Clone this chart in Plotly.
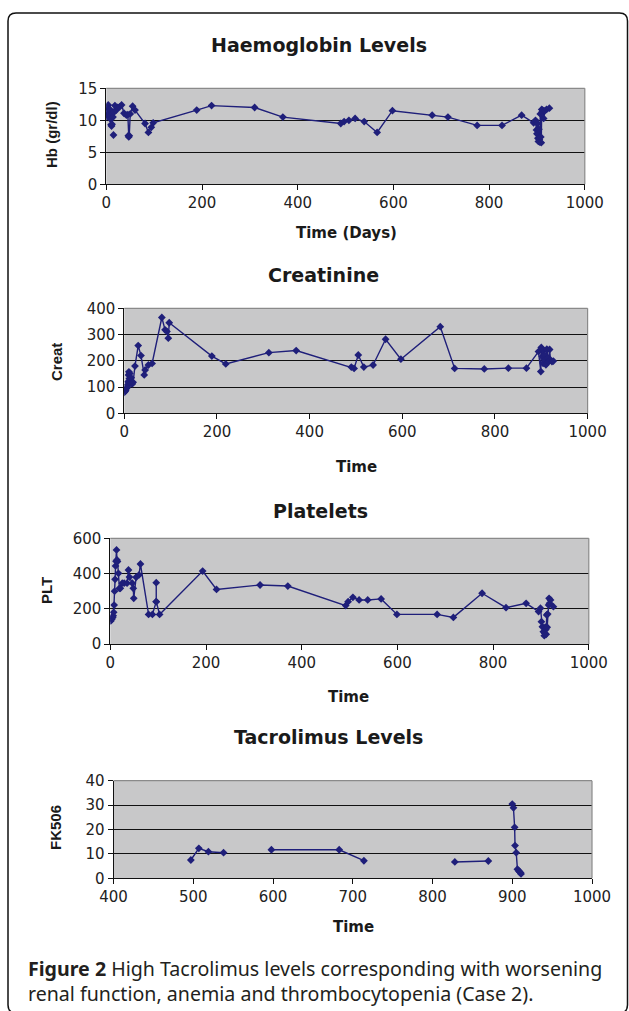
import plotly.graph_objects as go

# ---------------- data ----------------
hb_days = [0, 1, 2, 3, 4, 5, 6, 7, 8, 9, 10, 11, 12, 13, 14, None, 15, None, 16, 18, 21, 24, 28, 32, 37, 42, 45, 46, 47, 48, 50, 55, 60, 81, 88, 94, 98,
           189, 220, 310, 369, 490, 497, 507, 520, 539, 566, 598, 681, 714, 775, 827, 868,
           893, 897, 899, 900, 901, 902, 903, 904, 905, 906, 907, 908, 909, 910, 911, 912, 914, 917, 920, 926]
hb_values = [10.5, 11.5, 12.1, 10.8, 12.4, 11.0, 11.8, 10.4, 11.6, 10.2, 9.3, 9.1, 9.4, 11.1, 10.5, None, 7.7, None, 11.3, 12.3, 11.6, 12.0, 12.1, 12.4, 11.1, 10.8, 10.9, 7.6, 7.4, 7.6, 11.0, 12.2, 11.6, 9.5, 8.1, 8.9, 9.6,
             11.6, 12.3, 12.0, 10.5, 9.5, 9.8, 10.0, 10.3, 9.8, 8.1, 11.5, 10.8, 10.5, 9.2, 9.2, 10.8,
             9.6, 10.0, 8.5, 7.9, 9.5, 7.2, 6.7, 8.6, 7.0, 6.6, 11.0, 7.4, 6.5, 11.7, 11.3, 11.6, 10.3, 11.5, 11.7, 11.9]

creat_days = [0, 2, 3, 5, 6, 7, 8, 9, 10, 11, 12, 13, 14, 15, 17, 19, 23, 30, 36, 43, 45, 52, 60, 81, 88, 92, 95, 97,
              189, 219, 312, 371, 490, 496, 505, 517, 537, 564, 597, 682, 713, 777, 829, 868,
              894, 899, 900, 902, 904, 905, 907, 908, 910, 912, 914, 916, 918, 920, 923, 926]
creat_values = [80, 84, 88, 95, 99, 108, 120, 146, 158, 133, 152, 127, 114, 135, 112, 118, 180, 258, 220, 146, 165, 184, 190, 365, 318, 312, 286, 345,
                218, 188, 231, 239, 176, 171, 222, 176, 184, 282, 206, 330, 171, 169, 172, 172,
                235, 159, 251, 216, 190, 240, 222, 203, 185, 244, 210, 197, 243, 203, 197, 199]

plt_days = [1, 3, 5, 6, 7, 8, 9, 10, 11, 12, 13, 14, 15, 17, 19, 21, 25, 29, 35, 38, 40, 46, 48, 49, 54, 60, 63,
            80, 88, 96, 96, 96, 103,
            193, 222, 313, 371, 492, 497, 507, 520, 538, 566, 599, 683, 717, 777, 827, 869,
            895, 899, 901, 903, 905, 907, 908, 909, 910, 911, 912, 913, 914, 916, 917, 918, 920, 926]
plt_values = [131, 140, 150, 160, 180, 221, 300, 367, 443, 470, 534, 477, 468, 401, 316, 316, 345, 345, 345, 420, 380, 345, 316, 259, 379, 392, 454,
              168, 168, 240, 348, 240, 168,
              414, 310, 335, 329, 218, 240, 265, 250, 250, 256, 168, 168, 151, 288, 206, 231,
              184, 203, 127, 98, 70, 47, 61, 95, 82, 55, 165, 95, 170, 221, 259, 231, 250, 212]

fk_days = [497, 507, 519, 538, None, 598, 683, 714, None, 828, 870, None,
           900, 901.5, 903, 903.5, 905, 906.5, 908, 909, 910.5, 911]
fk_values = [7.5, 12.3, 10.9, 10.5, None, 11.7, 11.7, 7.2, None, 6.7, 7.1, None,
             30.4, 28.9, 20.9, 13.4, 10.5, 3.7, 3.1, 2.7, 2.3, 1.8]

titles = ["Haemoglobin Levels", "Creatinine", "Platelets", "Tacrolimus Levels"]
x_titles = ["Time (Days)", "Time", "Time", "Time"]
y_titles = ["Hb (gr/dl)", "Creat", "PLT", "FK506"]
y_ranges = [[0, 15], [0, 400], [0, 600], [0, 40]]
y_dticks = [5, 100, 200, 10]
x_ranges = [[0, 1000], [0, 1000], [0, 1000], [400, 1000]]
x_dticks = [200, 200, 200, 100]

caption_bold = "Figure 2"
caption_line1 = " High Tacrolimus levels corresponding with worsening"
caption_line2 = "renal function, anemia and thrombocytopenia (Case 2)."

# ---------------- layout geometry (pixels) ----------------
W, H = 629, 1011
def fx(p):
    return p / W
def fy(p):
    return 1 - p / H

panels = [
    dict(l=106.3, r=584.8, t=88.3, b=184.3, title=(319, 45), xt=(346, 233), yt=(51, 135)),
    dict(l=124.3, r=587.6, t=308.3, b=413.3, title=(323, 275), xt=(356, 467), yt=(56, 362)),
    dict(l=110.3, r=588.8, t=538.3, b=644.0, title=(320, 511), xt=(349, 697), yt=(46, 591)),
    dict(l=113.5, r=592.0, t=780.7, b=878.3, title=(328, 737), xt=(353, 927), yt=(55, 828)),
]

navy = "#1f1f7a"
series = [(hb_days, hb_values), (creat_days, creat_values), (plt_days, plt_values), (fk_days, fk_values)]

fig = go.Figure()
layout = dict(
    width=W, height=H, margin=dict(l=0, r=0, t=0, b=0, pad=0), autosize=False,
    paper_bgcolor="white", plot_bgcolor="#c8c8c9", showlegend=False,
)
annotations = []
shapes = []
tick_font = dict(family="DejaVu Sans", size=15, color="#222222")

for i, (p, (xs, ys)) in enumerate(zip(panels, series)):
    n = "" if i == 0 else str(i + 1)
    fig.add_trace(go.Scatter(
        x=xs, y=ys, mode="lines+markers", connectgaps=False,
        line=dict(color=navy, width=1.4),
        marker=dict(symbol="diamond", size=6, color=navy),
        xaxis="x" + n, yaxis="y" + n, hoverinfo="skip",
    ))
    layout["xaxis" + n] = dict(
        domain=[fx(p["l"]), fx(p["r"])], anchor="y" + n, automargin=False,
        range=x_ranges[i], dtick=x_dticks[i], tick0=x_ranges[i][0],
        showgrid=False, zeroline=False, showline=True, linecolor="#111111", linewidth=1,
        ticks="outside", ticklen=5, tickcolor="#111111", tickfont=tick_font,
    )
    layout["yaxis" + n] = dict(
        domain=[fy(p["b"]), fy(p["t"])], anchor="x" + n, automargin=False,
        range=y_ranges[i], dtick=y_dticks[i], tick0=0,
        showgrid=True, gridcolor="#111111", gridwidth=1,
        zeroline=False, showline=True, linecolor="#111111", linewidth=1,
        ticks="outside", ticklen=5, tickcolor="#111111", tickfont=tick_font,
    )
    # plot area border (top and right, grey)
    shapes.append(dict(type="line", xref="x" + n + " domain", yref="y" + n + " domain",
                       x0=0, x1=1, y0=1, y1=1, line=dict(color="#8a8a8a", width=1.2), layer="above"))
    shapes.append(dict(type="line", xref="x" + n + " domain", yref="y" + n + " domain",
                       x0=1, x1=1, y0=0, y1=1, line=dict(color="#8a8a8a", width=1.2), layer="above"))
    annotations.append(dict(text="<b>%s</b>" % titles[i], x=fx(p["title"][0]), y=fy(p["title"][1]),
                            xref="paper", yref="paper", showarrow=False, xanchor="center", yanchor="middle",
                            font=dict(family="DejaVu Sans", size=19, color="#1a1a1a")))
    annotations.append(dict(text="<b>%s</b>" % x_titles[i], x=fx(p["xt"][0]), y=fy(p["xt"][1]),
                            xref="paper", yref="paper", showarrow=False, xanchor="center", yanchor="middle",
                            font=dict(family="DejaVu Sans", size=15, color="#1a1a1a")))
    annotations.append(dict(text="<b>%s</b>" % y_titles[i], x=fx(p["yt"][0]), y=fy(p["yt"][1]),
                            xref="paper", yref="paper", showarrow=False, xanchor="center", yanchor="middle",
                            textangle=-90,
                            font=dict(family="Liberation Sans", size=15, color="#1a1a1a")))

# caption
annotations.append(dict(text="<b>%s</b>%s" % (caption_bold, caption_line1), x=fx(26), y=fy(968),
                        xref="paper", yref="paper", showarrow=False, xanchor="left", yanchor="middle",
                        font=dict(family="Noto Sans", size=19.6, color="#231f20")))
annotations.append(dict(text=caption_line2, x=fx(26), y=fy(993),
                        xref="paper", yref="paper", showarrow=False, xanchor="left", yanchor="middle",
                        font=dict(family="Noto Sans", size=19.6, color="#231f20")))

# outer rounded frame
L, T, R, B, rad = 8, 13, 627.5, 1013, 8
path = ("M {a},{b} Q {c},{d} {e},{d} L {f},{d} Q {g},{d} {g},{b} L {g},{h} Q {g},{i} {f},{i} "
        "L {e},{i} Q {c},{i} {c},{h} Z").format(
    a=fx(L), b=fy(T + rad), c=fx(L), d=fy(T), e=fx(L + rad), f=fx(R - rad), g=fx(R),
    h=fy(B - rad), i=fy(B))
shapes.append(dict(type="path", xref="paper", yref="paper", path=path,
                   line=dict(color="#111111", width=1.5), layer="above"))

layout["annotations"] = annotations
layout["shapes"] = shapes
fig.update_layout(**layout)
fig.write_html("out.html", config={"displayModeBar": False},
               post_script="document.body.style.margin='0';document.body.style.overflow='hidden';")
